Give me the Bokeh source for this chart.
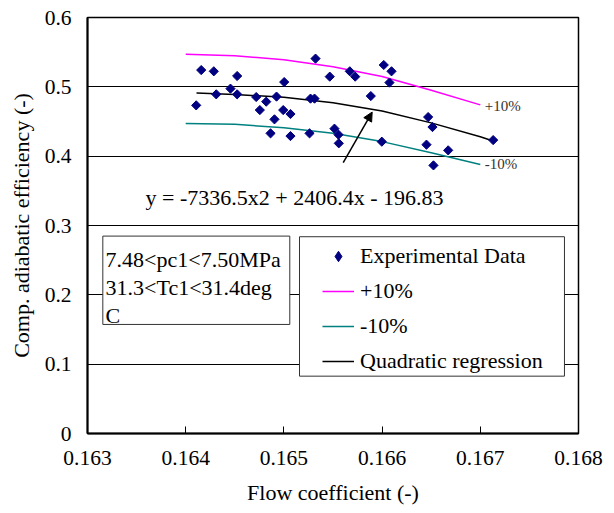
import numpy as np
from bokeh.plotting import figure
from bokeh.models import (FixedTicker, NumeralTickFormatter, Legend, LegendItem,
                          BoxAnnotation, Label, Arrow, NormalHead)
from bokeh.embed import file_html
from bokeh.resources import INLINE

# ---- data ----
flow = [0.164107, 0.164158, 0.164286, 0.164311, 0.164456, 0.164524, 0.164524,
        0.164718, 0.164755, 0.164820, 0.164864, 0.164904, 0.164925, 0.164993,
        0.165003, 0.165067, 0.165067, 0.165261, 0.165271, 0.165312, 0.165322,
        0.165467, 0.165671, 0.165726, 0.166017, 0.166096, 0.166075, 0.165885,
        0.165515, 0.165556, 0.165559, 0.165997, 0.166469, 0.166513, 0.166452,
        0.166673, 0.166523, 0.167131]
eff = [0.4733, 0.5242, 0.5224, 0.4892, 0.4974, 0.5156, 0.4892,
       0.4853, 0.4665, 0.4786, 0.4329, 0.4531, 0.4859, 0.4665,
       0.5069, 0.4608, 0.4290, 0.4329, 0.4830, 0.4830, 0.5407,
       0.5147, 0.5224, 0.5147, 0.5315, 0.5224, 0.5061, 0.4867,
       0.4397, 0.4310, 0.4185, 0.4209, 0.4564, 0.4420, 0.4166,
       0.4084, 0.3867, 0.4232]

band_x = [0.1640, 0.1645, 0.1650, 0.1655, 0.1660, 0.1665, 0.1670]
plus10 = [0.547, 0.545, 0.539, 0.529, 0.515, 0.495, 0.474]
minus10 = [0.447, 0.446, 0.441, 0.433, 0.421, 0.405, 0.388]

reg_x = [0.16411, 0.1645, 0.1650, 0.1655, 0.1660, 0.1665, 0.1670, 0.16713]
reg_y = [0.491, 0.489, 0.485, 0.477, 0.465, 0.448, 0.428, 0.422]

x_ticks = [0.163, 0.164, 0.165, 0.166, 0.167, 0.168]
y_ticks = [0, 0.1, 0.2, 0.3, 0.4, 0.5, 0.6]

legend_labels = ["Experimental Data", "+10%", "-10%", "Quadratic regression"]
equation_text = "y = -7336.5x2 + 2406.4x - 196.83"
box_lines = ["7.48<pc1<7.50MPa", "31.3<Tc1<31.4deg", "C"]

FONT = "Liberation Serif"

p = figure(frame_width=491, frame_height=416,
           x_range=(0.163, 0.168), y_range=(0, 0.6),
           output_backend="svg", toolbar_location=None,
           min_border_left=87, min_border_right=28,
           min_border_top=17, min_border_bottom=79,
           background_fill_color="white", border_fill_color="white")

p.outline_line_color = "black"
p.outline_line_width = 1.5
p.outline_line_alpha = 1

# axes
p.xaxis.ticker = FixedTicker(ticks=x_ticks)
p.xaxis.formatter = NumeralTickFormatter(format="0.000")
p.yaxis.ticker = FixedTicker(ticks=y_ticks)
p.yaxis.formatter = NumeralTickFormatter(format="0.[0]")
for ax in (p.xaxis, p.yaxis):
    ax.axis_line_color = "black"
    ax.axis_line_width = 2
    ax.major_tick_line_color = "black"
    ax.minor_tick_line_color = None
    ax.major_label_text_font = FONT
    ax.major_label_text_font_size = "21.5px"
    ax.major_label_text_color = "black"
    ax.axis_label_text_font = FONT
    ax.axis_label_text_font_size = "22px"
    ax.axis_label_text_font_style = "normal"
    ax.axis_label_text_color = "black"
p.xaxis.major_tick_in = 7
p.xaxis.major_tick_out = 0
p.yaxis.major_tick_in = 0
p.yaxis.major_tick_out = 0
p.xaxis.major_label_standoff = 17
p.yaxis.major_label_standoff = 16
p.xaxis.axis_label = "Flow coefficient (-)"
p.yaxis.axis_label = "Comp. adiabatic efficiency (-)"
p.xaxis.axis_label_standoff = 12
p.yaxis.axis_label_standoff = 8

p.xgrid.visible = False
p.ygrid.ticker = FixedTicker(ticks=y_ticks)
p.ygrid.grid_line_color = "black"
p.ygrid.grid_line_width = 1

# glyphs
r_plus = p.line(band_x, plus10, line_color="#FF00FF", line_width=1.5)
r_minus = p.line(band_x, minus10, line_color="#008080", line_width=1.5)
r_reg = p.line(reg_x, reg_y, line_color="black", line_width=1.5)
r_pts = p.scatter(flow, eff, marker="square", angle=np.pi / 4, size=6.5,
                  fill_color="#000080", line_color="#000080")
# same data, hidden: only supplies the diamond symbol of the legend
r_pts_key = p.scatter(flow, eff, marker="diamond", size=11,
                      fill_color="#000080", line_color="#000080", visible=False)

# curve labels
p.add_layout(Label(x=0.167046, y=0.4723, text="+10%", text_font=FONT,
                   text_font_size="15px", text_baseline="middle", text_color="#333333"))
p.add_layout(Label(x=0.167046, y=0.3882, text="-10%", text_font=FONT,
                   text_font_size="15px", text_baseline="middle", text_color="#333333"))

# equation and arrow
p.add_layout(Label(x=0.163591, y=0.3401, text=equation_text, text_font=FONT,
                   text_font_size="22px", text_baseline="alphabetic", text_color="black"))
p.add_layout(Arrow(end=NormalHead(size=9, fill_color="black", line_color="black"),
                   x_start=0.165604, y_start=0.3906, x_end=0.165899, y_end=0.4636,
                   line_color="black", line_width=1.5))

# condition box
p.add_layout(BoxAnnotation(left=0.163156, right=0.165060, bottom=0.1573, top=0.2847,
                           fill_color="white", fill_alpha=1,
                           line_color="#333333", line_width=1, line_alpha=1))
for txt, yy in zip(box_lines, [0.2511, 0.2107, 0.1707]):
    p.add_layout(Label(x=0.163184, y=yy, text=txt, text_font=FONT,
                       text_font_size="22px", text_baseline="alphabetic",
                       text_color="black"))

# legend box
p.add_layout(BoxAnnotation(left=0.165159, right=0.167857, bottom=0.0827, top=0.2838,
                           fill_color="white", fill_alpha=1,
                           line_color="#333333", line_width=1, line_alpha=1))
legend = Legend(items=[LegendItem(label=legend_labels[0], renderers=[r_pts_key]),
                       LegendItem(label=legend_labels[1], renderers=[r_plus]),
                       LegendItem(label=legend_labels[2], renderers=[r_minus]),
                       LegendItem(label=legend_labels[3], renderers=[r_reg])],
                location=(235, 59), padding=0, margin=0, spacing=9,
                glyph_width=32, glyph_height=26, label_height=26, label_standoff=6,
                label_text_font=FONT, label_text_font_size="22px",
                label_text_color="black",
                inactive_fill_alpha=0,
                border_line_alpha=0, background_fill_alpha=0)
p.add_layout(legend, "center")

open("out.html", "w").write(file_html(p, INLINE))
